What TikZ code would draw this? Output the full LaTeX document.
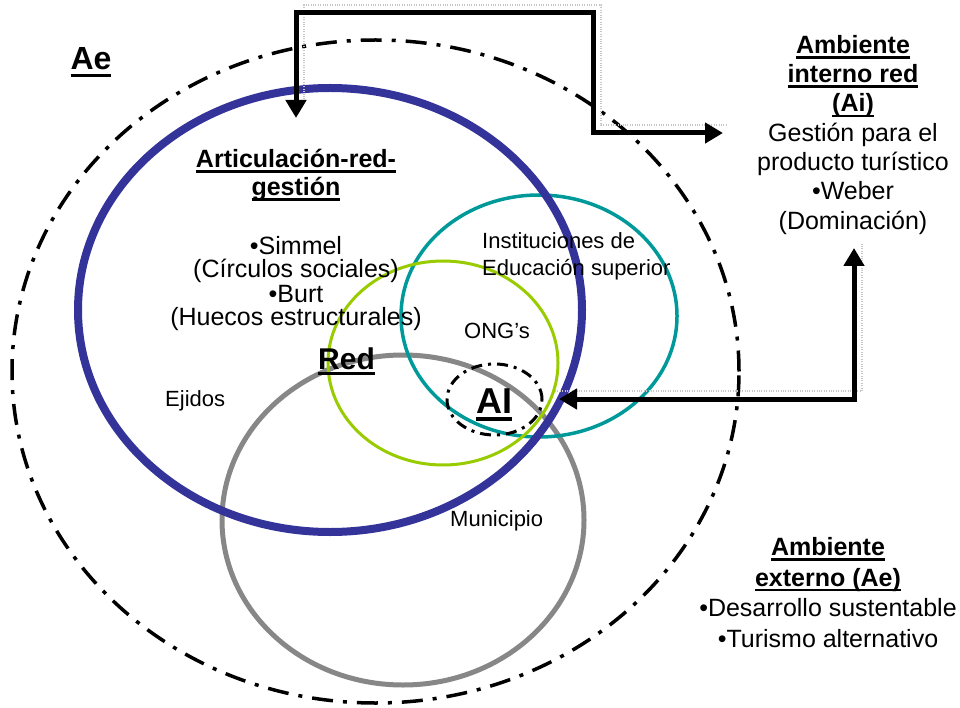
\documentclass[tikz,border=0pt]{standalone}
\usepackage{fontspec}
\setmainfont{Liberation Sans}
\usetikzlibrary{arrows.meta}

\definecolor{netblue}{HTML}{333399}
\definecolor{netteal}{HTML}{009999}
\definecolor{netgreen}{HTML}{99CC00}
\definecolor{netgray}{HTML}{878787}

% keep the line pitch fixed even for tight leading
\setlength{\lineskiplimit}{-100pt}

% bold text with a heavy underline, as in the headings
\newcommand\ulbf[1]{\setbox0=\hbox{\bfseries #1}\rlap{\rule[-0.21em]{\wd0}{0.1em}}\box0}

\begin{document}
\begin{tikzpicture}[x=1pt,y=-1pt,
  outerring/.style={line width=3.5pt, dash pattern=on 21pt off 10pt on 4pt off 10pt},
  airing/.style={line width=3pt, dash pattern=on 11pt off 6pt on 3pt off 6pt},
  flowarrow/.style={line width=5pt, {Triangle[length=18pt,width=20pt]}-{Triangle[length=18pt,width=20pt]}},
  shadowline/.style={draw=gray!45, line width=2.5pt, dash pattern=on 0.8pt off 1.6pt},
  small/.style={font=\fontsize{22}{27}\selectfont},
  txt/.style={inner sep=0pt}]
\useasboundingbox (0,0) rectangle (960,708);

% environment rings
\draw[outerring] (375.5,371.5) ellipse [x radius=363.5pt, y radius=331.5pt];
\draw[netgray, line width=5pt] (403,520) ellipse [x radius=181pt, y radius=165pt];
\draw[netteal, line width=3.5pt] (539,316) ellipse [x radius=138pt, y radius=121pt];
\draw[netgreen, line width=3pt] (443,363) ellipse [x radius=115pt, y radius=102pt];
\draw[netblue, line width=8pt] (330,310) ellipse [x radius=252pt, y radius=222pt];
\draw[airing] (494.5,399.5) ellipse [x radius=47.5pt, y radius=35.5pt];

% labels
\node[txt, anchor=base, font=\fontsize{32}{36}\selectfont] (lblAe) at (91,70) {\ulbf{Ae}};
\node[txt, anchor=north, align=center, font=\fontsize{25}{28}\selectfont] (artic) at (296,149)
  {\ulbf{Articulación-red-}\\\ulbf{gestión}};
\node[txt, anchor=north, align=center, font=\fontsize{25}{23}\selectfont] (autores) at (296,236)
  {•Simmel\\(Círculos sociales)\\[2pt]•Burt\\(Huecos estructurales)};
\node[txt, anchor=base, font=\fontsize{30}{34}\selectfont] (lblRed) at (346.5,369) {\ulbf{Red}};
\node[txt, anchor=base, font=\fontsize{36}{40}\selectfont] (lblAI) at (494,413) {\ulbf{AI}};
\node[txt, small, anchor=base west] (ejidos) at (165,406) {Ejidos};
\node[txt, small, anchor=north west, align=left] (ies) at (482,232)
  {Instituciones de\\Educación superior};
\node[txt, small, anchor=base] (ong) at (497,338) {ONG’s};
\node[txt, small, anchor=base west] (muni) at (450,526) {Municipio};

\node[txt, anchor=north, align=center, font=\fontsize{25}{29.3}\selectfont] (ainterno) at (853,35)
  {\ulbf{Ambiente}\\\ulbf{interno red}\\\ulbf{(Ai)}\\Gestión para el\\producto turístico\\•Weber\\(Dominación)};
\node[txt, anchor=north, align=center, font=\fontsize{25}{30.7}\selectfont] (aexterno) at (828,537)
  {\ulbf{Ambiente}\\\ulbf{externo (Ae)}\\•Desarrollo sustentable\\•Turismo alternativo};

% connector end points
\coordinate (tA) at (296,118);
\coordinate (tB) at (296,13);
\coordinate (tC) at (593,13);
\coordinate (tD) at (593,133);
\coordinate (tE) at (723,133);
\coordinate (bA) at (559,399);
\coordinate (bB) at (854,399);
\coordinate (bC) at (854,248);

% soft dotted shadows behind the connectors
\draw[shadowline] ([shift={(8,-14)}]tA) -- ([shift={(8,-8)}]tB) -- ([shift={(8,-8)}]tC)
  -- ([shift={(8,-8)}]tD) -- ([shift={(4,-8)}]tE);
\draw[shadowline] ([shift={(-4,-8)}]bA) -- ([shift={(8,-8)}]bB) -- ([shift={(8,-4)}]bC);

% connectors
\draw[flowarrow] (tA) -- (tB) -- (tC) -- (tD) -- (tE);
\draw[flowarrow] (bA) -- (bB) -- (bC);
\end{tikzpicture}
\end{document}
